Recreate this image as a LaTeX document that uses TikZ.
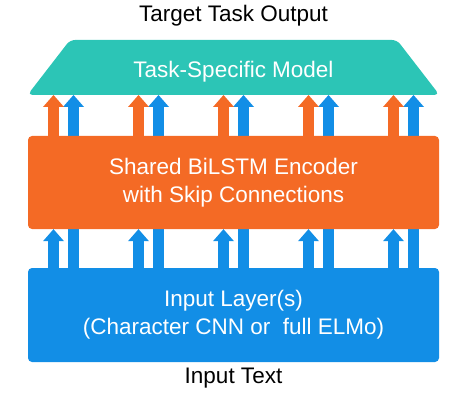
\documentclass[tikz,border=0pt]{standalone}
\usepackage{fontspec}
\setmainfont{Liberation Sans}
\usetikzlibrary{arrows.meta,calc}
\definecolor{tealc}{HTML}{2CC5B6}
\definecolor{orangec}{HTML}{F46A25}
\definecolor{bluec}{HTML}{128EE6}
\tikzset{
  txt/.style={font=\fontsize{22.5}{28}\selectfont},
  box/.style={rounded corners=4pt, minimum width=411pt, inner sep=0pt, text=white, align=center, txt},
  lbl/.style={txt, text=black, anchor=base, inner sep=0pt},
  arr/.style={line width=10.5pt, -{Triangle[width=21pt,length=12pt,line width=0pt]}},
}
\begin{document}
\begin{tikzpicture}[x=1pt,y=-1pt]
\useasboundingbox (0,0) rectangle (455,406);
\node[lbl] (out) at (233.5,22) {Target Task Output};
% task-specific model (trapezoid)
\coordinate (tsm) at (233.5,95);
\fill[tealc, rounded corners=5pt] (70,40) -- (397,40) -- (439.5,95) -- (27.5,95) -- cycle;
\node[lbl, text=white] (tsmtext) at (233.5,78) {Task-Specific Model};
\node[box, fill=bluec, minimum height=94pt] (inp) at (233.5,315) {Input Layer(s)\\(Character CNN or\ \ full ELMo)};
\node[lbl] (intext) at (233.5,383) {Input Text};
% skip connections (behind encoder)
\foreach \d in {-160,-75,10,95,180}{
  \draw[arr, bluec] ($(inp.north)+(\d,0)$) -- ($(tsm)+(\d,0)$);
}
\node[box, fill=orangec, minimum height=93pt] (enc) at (233.5,182.5) {Shared BiLSTM Encoder\\with Skip Connections};
\foreach \d in {-180,-95,-10,75,160}{
  \draw[arr, orangec] ($(enc.north)+(\d,0)$) -- ($(tsm)+(\d,0)$);
  \draw[arr, bluec] ($(inp.north)+(\d,0)$) -- ($(enc.south)+(\d,0)$);
}
\end{tikzpicture}
\end{document}
